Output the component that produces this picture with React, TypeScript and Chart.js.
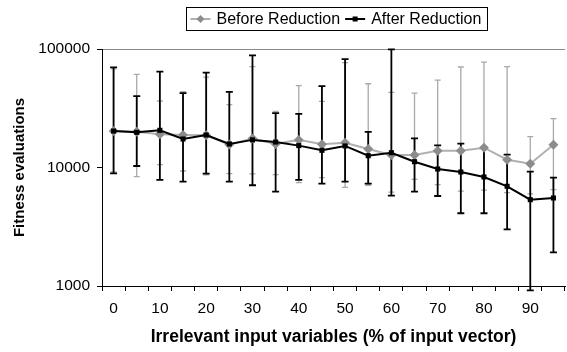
import React, { useEffect, useRef } from "react";
import { Chart, registerables } from "chart.js";

Chart.register(...registerables);

const categories = ["0", "5", "10", "15", "20", "25", "30", "35", "40", "45", "50", "55", "60", "65", "70", "75", "80", "85", "90", "95"];

const beforeValues = [20300, 20000, 19050, 18800, 18700, 15600, 17600, 15800, 17100, 15700, 16200, 14330, 12750, 12750, 13860, 13860, 14700, 11640, 10760, 15570];
const beforeUpper = [68000, 61100, 36400, 43600, 58000, 33900, 70900, 29800, 49000, 36200, 76600, 50900, 43100, 42500, 54700, 70500, 77600, 70900, 18200, 25800];
const beforeLower = [9200, 8360, 10570, 9340, 8650, 8870, 8820, 8700, 7440, 8200, 6800, 7080, 6200, 7950, 7160, 6330, 6450, 6130, 6000, 6500];

const afterValues = [20300, 19800, 20600, 17400, 18800, 15800, 17100, 16400, 15300, 13970, 15200, 12580, 13330, 11190, 9710, 9160, 8320, 6940, 5350, 5530];
const afterUpper = [70100, 40100, 64400, 42500, 63100, 43400, 88500, 28800, 28400, 48700, 82300, 19950, 99400, 17630, 15390, 15880, 14700, 12830, 9220, 8200];
const afterLower = [8930, 10300, 7850, 7590, 8870, 7590, 7080, 6250, 7850, 7300, 7590, 7300, 5780, 6250, 5750, 4110, 4110, 3010, 920, 1920];

const yTicks = [1000, 10000, 100000];

const FONT = "'Liberation Sans', Arial, sans-serif";

const errorBarPlugin = {
  id: "errorBars",
  beforeDatasetsDraw(chart: any) {
    const ctx = chart.ctx;
    const x = chart.scales.x;
    const y = chart.scales.y;
    const sets = [
      { upper: beforeUpper, lower: beforeLower, color: "#a9a9a9", width: 1.3, cap: 3 },
      { upper: afterUpper, lower: afterLower, color: "#000000", width: 1.8, cap: 3.5 },
    ];
    ctx.save();
    sets.forEach((s) => {
      ctx.strokeStyle = s.color;
      ctx.lineWidth = s.width;
      for (let i = 0; i < categories.length; i++) {
        const px = x.getPixelForValue(i);
        const yu = y.getPixelForValue(s.upper[i]);
        const yl = y.getPixelForValue(s.lower[i]);
        ctx.beginPath();
        ctx.moveTo(px, yu);
        ctx.lineTo(px, yl);
        ctx.moveTo(px - s.cap, yu);
        ctx.lineTo(px + s.cap, yu);
        ctx.moveTo(px - s.cap, yl);
        ctx.lineTo(px + s.cap, yl);
        ctx.stroke();
      }
    });
    ctx.restore();
  },
};

const legendPlugin = {
  id: "boxLegend",
  afterDraw(chart: any) {
    const ctx = chart.ctx;
    ctx.save();
    ctx.font = `16px ${FONT}`;
    const items = [
      { label: "Before Reduction", line: "#b0b0b0", marker: "diamond", mcolor: "#8c8c8c" },
      { label: "After Reduction", line: "#000000", marker: "square", mcolor: "#000000" },
    ];
    const iconW = 20;
    const gap = 6;
    const itemGap = 5;
    const padX = 4;
    const widths = items.map((it) => iconW + gap + ctx.measureText(it.label).width);
    const total = widths.reduce((a, b) => a + b, 0) + itemGap + padX * 2 + 2;
    const top = 7;
    const h = 23;
    const left = 186.5;
    ctx.strokeStyle = "#000";
    ctx.lineWidth = 1;
    ctx.strokeRect(left, top + 0.5, Math.round(total), h);
    let xx = left + padX;
    const cy = top + h / 2 + 0.5;
    items.forEach((it, k) => {
      ctx.strokeStyle = it.line;
      ctx.lineWidth = 2;
      ctx.beginPath();
      ctx.moveTo(xx, cy);
      ctx.lineTo(xx + iconW, cy);
      ctx.stroke();
      ctx.fillStyle = it.mcolor;
      const mx = xx + iconW / 2;
      if (it.marker === "diamond") {
        ctx.beginPath();
        ctx.moveTo(mx, cy - 4);
        ctx.lineTo(mx + 4, cy);
        ctx.lineTo(mx, cy + 4);
        ctx.lineTo(mx - 4, cy);
        ctx.closePath();
        ctx.fill();
      } else {
        ctx.fillRect(mx - 2.5, cy - 2.5, 5, 5);
      }
      ctx.fillStyle = "#000";
      ctx.textBaseline = "middle";
      ctx.textAlign = "left";
      ctx.fillText(it.label, xx + iconW + gap, cy + 0.5);
      xx += widths[k] + itemGap;
    });
    ctx.restore();
  },
};

export default function App() {
  const ref = useRef<HTMLCanvasElement | null>(null);
  useEffect(() => {
    if (!ref.current) return;
    Chart.defaults.color = "#000";
    Chart.defaults.font.family = FONT;
    const chart = new Chart(ref.current, {
      type: "line",
      data: {
        labels: categories,
        datasets: [
          {
            label: "Before Reduction",
            data: beforeValues,
            borderColor: "#b0b0b0",
            backgroundColor: "#8c8c8c",
            borderWidth: 2,
            pointStyle: "rectRot",
            pointRadius: 5,
            pointBorderWidth: 0,
            pointBackgroundColor: "#8c8c8c",
            order: 1,
            tension: 0,
          },
          {
            label: "After Reduction",
            data: afterValues,
            borderColor: "#000",
            backgroundColor: "#000",
            borderWidth: 2,
            pointStyle: "rect",
            pointRadius: 3.6,
            pointBorderWidth: 0,
            pointBackgroundColor: "#000",
            order: 0,
            tension: 0,
          },
        ],
      },
      options: {
        animation: false,
        responsive: false,
        devicePixelRatio: 1,
        layout: { padding: { top: 49, right: 0, left: 0, bottom: 0 } },
        plugins: { legend: { display: false }, tooltip: { enabled: false } },
        scales: {
          x: {
            type: "category",
            offset: true,
            grid: { offset: true, drawOnChartArea: false, tickLength: 5, tickColor: "#000" },
            border: { color: "#000", width: 1 },
            ticks: {
              autoSkip: false,
              maxRotation: 0,
              padding: 8,
              font: { size: 15.5 },
              callback: (v: any, i: number) => (i % 2 === 0 ? categories[i] : ""),
            },
            title: {
              display: true,
              text: "Irrelevant input variables (% of input vector)",
              font: { size: 17.5, weight: "bold" },
              padding: { top: 0, bottom: 4 },
            },
            afterFit: (s: any) => {
              s.height = 66;
            },
          },
          y: {
            type: "logarithmic",
            min: 1000,
            max: 100000,
            afterBuildTicks: (s: any) => {
              s.ticks = yTicks.map((v) => ({ value: v }));
            },
            afterFit: (s: any) => {
              s.width = 102;
            },
            grid: {
              drawOnChartArea: true,
              tickLength: 5,
              tickColor: "#000",
              color: (c: any) => (c.tick && c.tick.value === 100000 ? "#8a8a8a" : "rgba(0,0,0,0)"),
            },
            border: { color: "#000", width: 1 },
            ticks: {
              padding: 7,
              font: { size: 15.5 },
              callback: (v: any) => String(v),
            },
            title: {
              display: true,
              text: "Fitness evaluations",
              font: { size: 15, weight: "bold" },
              padding: { top: 11, bottom: 0 },
            },
          },
        },
      },
      plugins: [errorBarPlugin, legendPlugin],
    });
    return () => chart.destroy();
  }, []);
  return (
    <div
      style={{
        position: "fixed",
        left: 0,
        top: 0,
        width: 567,
        height: 352,
        overflow: "hidden",
        background: "#fff",
      }}
    >
      <canvas ref={ref} width={570} height={352} style={{ width: 570, height: 352, display: "block" }} />
    </div>
  );
}
